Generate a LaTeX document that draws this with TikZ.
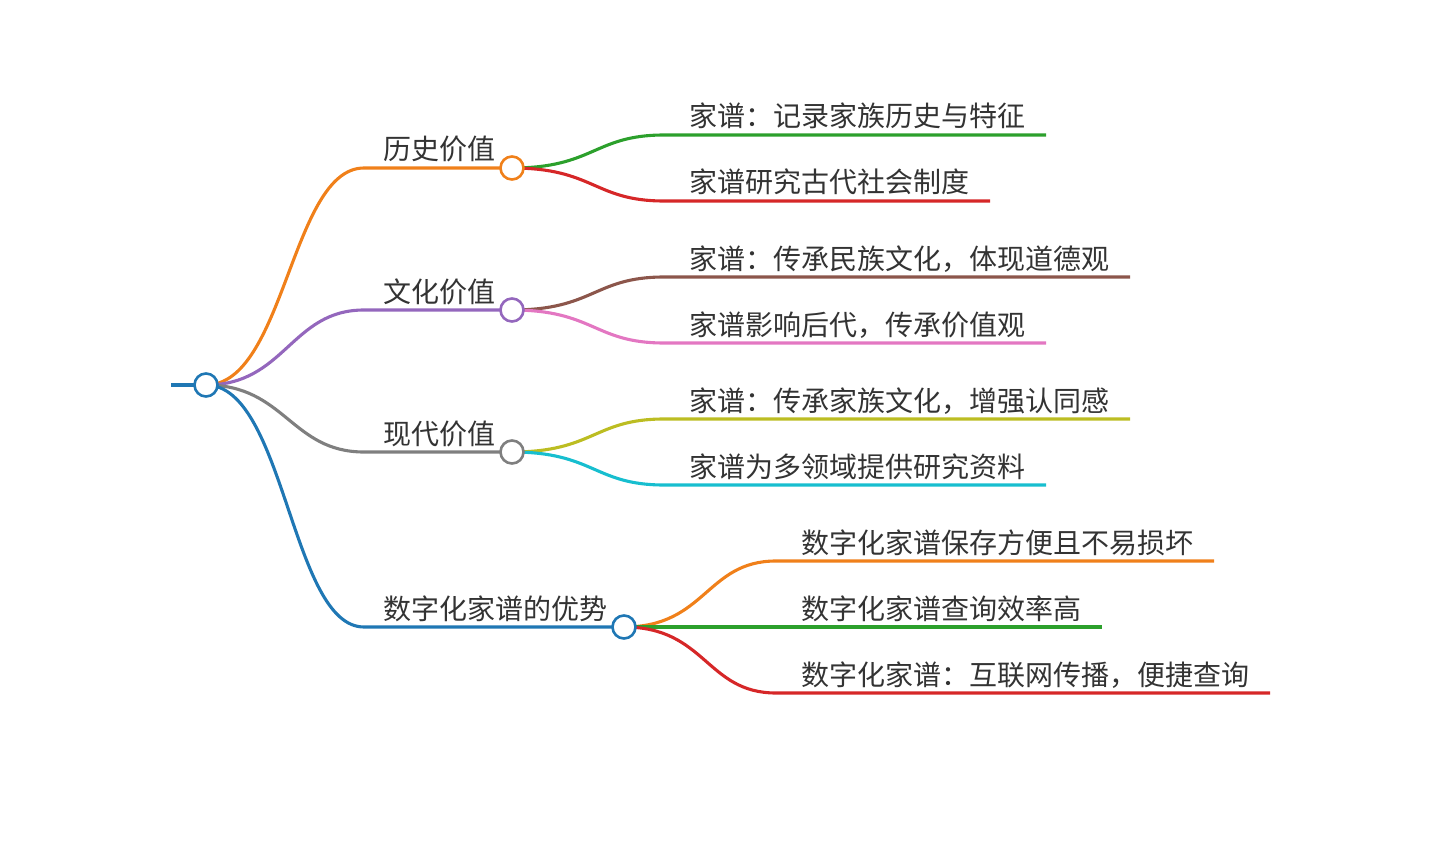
\documentclass[tikz,border=0pt]{standalone}
\usepackage{fontspec}
\setmainfont{Noto Sans CJK SC}
\definecolor{cblue}{HTML}{1F77B4}
\definecolor{corange}{HTML}{F0801A}
\definecolor{cgreen}{HTML}{2CA02C}
\definecolor{cred}{HTML}{D62728}
\definecolor{cpurple}{HTML}{9467BD}
\definecolor{cbrown}{HTML}{8C564B}
\definecolor{cpink}{HTML}{E377C2}
\definecolor{cgray}{HTML}{7F7F7F}
\definecolor{colive}{HTML}{BCBD22}
\definecolor{ccyan}{HTML}{17BECF}
\definecolor{txt}{HTML}{333333}
\pgfdeclarelayer{bg}
\pgfsetlayers{bg,main}
\begin{document}
\begin{tikzpicture}[x=1pt,y=-1pt,
  link/.style={line width=3.1pt},
  dot/.style={circle, draw, fill=white, line width=2.6pt, minimum size=23pt, inner sep=0pt},
  lbl/.style={anchor=base west, inner sep=0pt, text=txt, font=\fontsize{28}{30}\selectfont}]
\useasboundingbox (0,0) rectangle (1440,853);

% circles
\node[dot, draw=cblue] (root) at (206,385) {};
\node[dot, draw=corange] (h1) at (512,168) {};
\node[dot, draw=cpurple] (h2) at (512,310) {};
\node[dot, draw=cgray] (h3) at (512,452) {};
\node[dot, draw=cblue] (h4) at (624,627) {};

% level-1 labels
\node[lbl] (t1) at (383,160) {历史价值};
\node[lbl] (t2) at (383,302) {文化价值};
\node[lbl] (t3) at (383,444) {现代价值};
\node[lbl] (t4) at (383,619) {数字化家谱的优势};

% leaf labels
\node[lbl] (l11) at (689,127) {家谱：记录家族历史与特征};
\node[lbl] (l12) at (689,193) {家谱研究古代社会制度};
\node[lbl] (l21) at (689,269) {家谱：传承民族文化，体现道德观};
\node[lbl] (l22) at (689,335) {家谱影响后代，传承价值观};
\node[lbl] (l31) at (689,411) {家谱：传承家族文化，增强认同感};
\node[lbl] (l32) at (689,477) {家谱为多领域提供研究资料};
\node[lbl] (l41) at (801,553) {数字化家谱保存方便且不易损坏};
\node[lbl] (l42) at (801,619) {数字化家谱查询效率高};
\node[lbl] (l43) at (801,685) {数字化家谱：互联网传播，便捷查询};

% coordinates
\coordinate (stub) at (171,385);
\coordinate (h1s) at (364,168);
\coordinate (h2s) at (364,310);
\coordinate (h3s) at (364,452);
\coordinate (h4s) at (364,627);
\coordinate (a11) at (664,135); \coordinate (b11) at (1046,135);
\coordinate (a12) at (664,201); \coordinate (b12) at (990,201);
\coordinate (a21) at (664,277); \coordinate (b21) at (1130,277);
\coordinate (a22) at (664,343); \coordinate (b22) at (1046,343);
\coordinate (a31) at (664,419); \coordinate (b31) at (1130,419);
\coordinate (a32) at (664,485); \coordinate (b32) at (1046,485);
\coordinate (a41) at (776,561); \coordinate (b41) at (1214,561);
\coordinate (a42) at (776,627); \coordinate (b42) at (1102,627);
\coordinate (a43) at (776,693); \coordinate (b43) at (1270,693);

\begin{pgfonlayer}{bg}
\draw[link, cblue] (stub) -- (root.center);
\draw[link, corange] (root.center) .. controls ([xshift=79pt]root.center) and ([xshift=-73pt]h1s) .. (h1s) -- (h1.center);
\draw[link, cpurple] (root.center) .. controls ([xshift=79pt]root.center) and ([xshift=-73pt]h2s) .. (h2s) -- (h2.center);
\draw[link, cgray] (root.center) .. controls ([xshift=79pt]root.center) and ([xshift=-73pt]h3s) .. (h3s) -- (h3.center);
\draw[link, cblue] (root.center) .. controls ([xshift=79pt]root.center) and ([xshift=-73pt]h4s) .. (h4s) -- (h4.center);

\draw[link, cgreen] (h1.center) .. controls ([xshift=82pt]h1.center) and ([xshift=-70pt]a11) .. (a11) -- (b11);
\draw[link, cred] (h1.center) .. controls ([xshift=82pt]h1.center) and ([xshift=-70pt]a12) .. (a12) -- (b12);
\draw[link, cbrown] (h2.center) .. controls ([xshift=82pt]h2.center) and ([xshift=-70pt]a21) .. (a21) -- (b21);
\draw[link, cpink] (h2.center) .. controls ([xshift=82pt]h2.center) and ([xshift=-70pt]a22) .. (a22) -- (b22);
\draw[link, colive] (h3.center) .. controls ([xshift=82pt]h3.center) and ([xshift=-70pt]a31) .. (a31) -- (b31);
\draw[link, ccyan] (h3.center) .. controls ([xshift=82pt]h3.center) and ([xshift=-70pt]a32) .. (a32) -- (b32);
\draw[link, corange] (h4.center) .. controls ([xshift=82pt]h4.center) and ([xshift=-70pt]a41) .. (a41) -- (b41);
\draw[link, cgreen] (h4.center) .. controls ([xshift=82pt]h4.center) and ([xshift=-70pt]a42) .. (a42) -- (b42);
\draw[link, cred] (h4.center) .. controls ([xshift=82pt]h4.center) and ([xshift=-70pt]a43) .. (a43) -- (b43);
\end{pgfonlayer}
\end{tikzpicture}
\end{document}
